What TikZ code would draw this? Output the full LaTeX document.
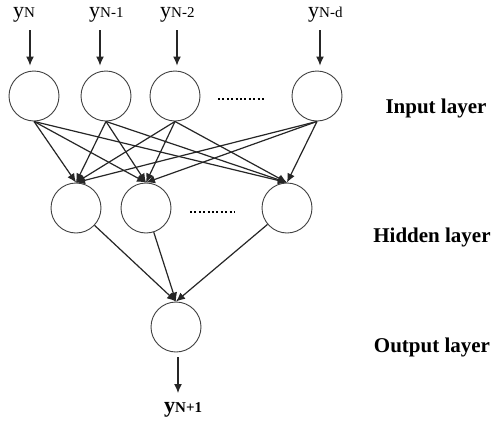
\documentclass[tikz,border=0pt]{standalone}
\usepackage{fontspec}
\setmainfont{Liberation Serif}
\usetikzlibrary{arrows.meta}
\tikzset{
  neuron/.style={circle,draw=black!75,line width=0.9pt,minimum size=50pt,inner sep=0pt},
  conn/.style={line width=1.2pt,draw=black!85,-{Latex[length=9pt,width=8pt]}},
  feed/.style={line width=1.2pt,draw=black!85,-{Latex[length=9pt,width=8pt]}},
  ylab/.style={anchor=base west,inner sep=0pt,font=\fontsize{22}{22}\selectfont},
  layerlab/.style={anchor=center,inner sep=0pt,font=\fontsize{21}{21}\selectfont\bfseries},
  dots/.style={line width=2pt,dash pattern=on 2pt off 2.4pt,draw=black}
}
\newcommand{\ysub}[1]{y{\fontsize{15}{15}\selectfont\raisebox{-0.5pt}{#1}}}
\begin{document}
\begin{tikzpicture}[x=1pt,y=-1pt]
\useasboundingbox[fill=white] (0,0) rectangle (496,421);
% labels on top
\node[ylab] (l1) at (13,17) {\ysub{N}};
\node[ylab] (l2) at (89,17) {\ysub{N-1}};
\node[ylab] (l3) at (160,17) {\ysub{N-2}};
\node[ylab] (l4) at (308,17) {\ysub{N-d}};
% input layer
\node[neuron] (i1) at (34,96) {};
\node[neuron] (i2) at (106,96) {};
\node[neuron] (i3) at (175,96) {};
\node[neuron] (i4) at (317,96) {};
\draw[dots] (218,99) -- (265,99);
% arrow starts
\coordinate (a1) at (30,30);
\coordinate (a2) at (100,30);
\coordinate (a3) at (177,30);
\coordinate (a4) at (320,30);
\foreach \k in {1,2,3,4}{
  \draw[feed,shorten >=5pt] (a\k) -- (a\k |- i\k.north);
}
% hidden layer
\node[neuron] (h1) at (76,208) {};
\node[neuron] (h2) at (146,208) {};
\node[neuron] (h3) at (287,208) {};
\draw[dots] (190,212) -- (235,212);
\foreach \i in {1,2,3,4}{
  \foreach \j in {1,2,3}{
    \draw[conn] (i\i.south) -- (h\j.north);
  }
}
% output
\node[neuron] (o) at (176,327) {};
\foreach \j in {1,2,3}{
  \draw[conn] (h\j) -- (o.north);
}
\coordinate (b1) at (178,357);
\coordinate (b2) at (178,393);
\draw[feed] (b1) -- (b2);
\node[ylab,font=\fontsize{22}{22}\selectfont\bfseries] (lo) at (164,412) {\ysub{N+1}};
% layer labels
\node[layerlab] (L1) at (436,108) {Input layer};
\node[layerlab] (L2) at (432,237) {Hidden layer};
\node[layerlab] (L3) at (432,347) {Output layer};
\end{tikzpicture}
\end{document}
